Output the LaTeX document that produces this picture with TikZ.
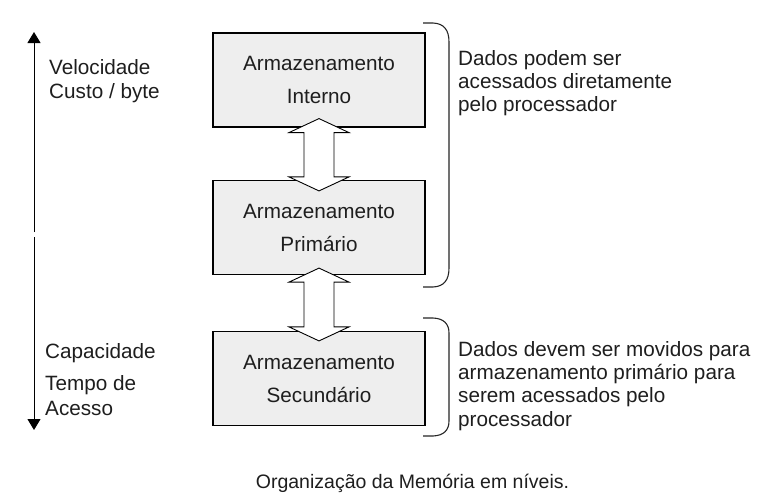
\documentclass[tikz,border=0pt]{standalone}
\usepackage{fontspec}
\setmainfont{Liberation Sans}
\usetikzlibrary{arrows.meta,calc}
\definecolor{boxfill}{HTML}{EEEEEE}
\definecolor{txt}{HTML}{1E1E1E}
\newcommand\dblarrow[2]{%
  \path[blockarr] let \p1=(#1), \p2=(#2) in
    (\x1,\y1) -- (\x1+30pt,\y1-14pt) -- (\x1+15pt,\y1-14pt) -- (\x1+15pt,\y2+14pt)
    -- (\x1+30pt,\y2+14pt) -- (\x2,\y2) -- (\x1-30pt,\y2+14pt) -- (\x1-15pt,\y2+14pt)
    -- (\x1-15pt,\y1-14pt) -- (\x1-30pt,\y1-14pt) -- cycle;}
\begin{document}
\begin{tikzpicture}[x=1pt,y=-1pt,
  memhbox/.style={draw=black, line width=1.2pt, fill=boxfill, minimum width=212pt,
    minimum height=94pt, inner sep=0pt, align=center, text=txt,
    font=\fontsize{20.7}{33}\selectfont},
  lbl/.style={font=\fontsize{20.7}{23.3}\selectfont, inner sep=0pt, align=left, text=txt},
  blockarr/.style={draw=black, line width=0.9pt, fill=white, line join=miter},
  bracket/.style={draw=black!85, line width=1.1pt},
  axisarr/.style={draw=black, line width=1pt, -{Triangle[length=11pt,width=13pt]}}
]
\useasboundingbox (0,0) rectangle (772,498);
\fill[white] (0,0) rectangle (772,498);

\node[memhbox] (b1) at (319,80) {Armazenamento\\Interno};
\node[memhbox] (b2) at (319,227.5) {Armazenamento\\Primário};
\node[memhbox] (b3) at (319,378.5) {Armazenamento\\Secundário};

\coordinate (a1t) at ($(b1.south)+(0,-9)$);
\coordinate (a1b) at ($(b2.north)+(0,11)$);
\coordinate (a2t) at ($(b2.south)+(0,-7)$);
\coordinate (a2b) at ($(b3.north)+(0,10)$);
\dblarrow{a1t}{a1b}
\dblarrow{a2t}{a2b}

% brackets
\draw[bracket] (423,23) -- (433,23) .. controls (444,23.5) and (449,30) .. (449,42)
  -- (449,268) .. controls (449,280) and (444,286.5) .. (433,287) -- (423,287);
\draw[bracket] (423,318) -- (433,318) .. controls (444,318.5) and (449,324) .. (449,333)
  -- (449,421) .. controls (449,430) and (444,435.5) .. (433,436) -- (423,436);

% axis arrows
\coordinate (vt) at (34,32);
\coordinate (vm1) at (34,232);
\coordinate (vm2) at (34,237);
\coordinate (vb) at (34,430);
\draw[axisarr] (vm1) -- (vt);
\draw[axisarr] (vm2) -- (vb);

% left labels
\node[lbl, anchor=base west] (vel) at (49,74) {Velocidade};
\node[lbl, anchor=base west] (cus) at (49,98) {Custo / byte};
\node[lbl, anchor=base west] (capa) at (45,358) {Capacidade};
\node[lbl, anchor=base west] (tem) at (45,390) {Tempo de};
\node[lbl, anchor=base west] (ace) at (45,415) {Acesso};

% right texts
\node[lbl, anchor=north west] (t1) at (458,50) {Dados podem ser\\acessados diretamente\\pelo processador};
\node[lbl, anchor=north west] (t2) at (458,341) {Dados devem ser movidos para\\armazenamento primário para\\serem acessados pelo\\processador};

% caption
\node[font=\fontsize{19.5}{23}\selectfont, anchor=base, inner sep=0pt, text=txt] (cap) at (412.5,488) {Organização da Memória em níveis.};
\end{tikzpicture}
\end{document}
